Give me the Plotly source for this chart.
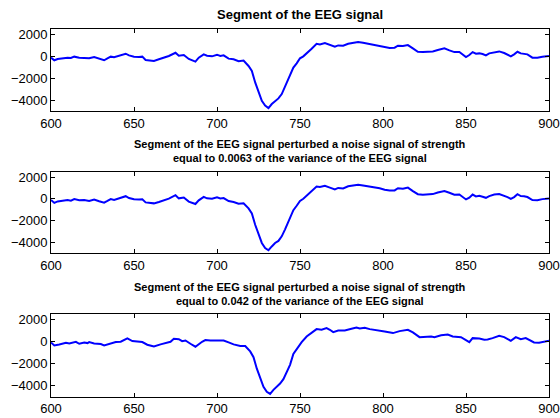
import plotly.graph_objects as go

# ---- data ----
x_clean = [600, 602, 604, 607, 610, 612, 614, 617, 620, 623, 626, 629, 632, 634, 636, 638, 641, 645, 647, 650,
           653, 655, 657, 660, 662, 665, 668, 671, 675, 677, 680, 683, 687, 689, 692, 694, 697, 700, 702, 704,
           707, 710, 713, 716, 719, 721, 723, 725, 727, 729, 731, 733, 735, 737, 739, 741, 743, 746, 748, 750,
           752, 755, 757, 760, 762, 765, 768, 771, 773, 776, 779, 782, 785, 788, 791, 794, 798, 801, 804, 807,
           809, 812, 815, 818, 821, 824, 827, 830, 833, 837, 840, 843, 846, 848, 850, 852, 854, 856, 858, 860,
           862, 864, 867, 870, 873, 875, 877, 879, 881, 883, 885, 887, 890, 893, 896, 899, 900]
y_clean = [-120, -360, -240, -150, -120, -150, -30, -120, -120, -180, -60, -210, -360, -180, -30, -90, 30, 240, 90, -30,
           -60, -30, -330, -400, -420, -270, -120, 30, 330, 60, 120, -240, -480, -120, 180, 60, 0, 150, 30, 90,
           -210, -270, -450, -390, -880, -1330, -2390, -3150, -4060, -4500, -4730, -4360, -4060, -3850, -3450, -2790, -2090, -1030, -640, -180,
           0, 480, 700, 1150, 1090, 1210, 1030, 880, 1000, 970, 1150, 1240, 1300, 1240, 1150, 1060, 970, 850, 760, 790,
           970, 940, 1030, 730, 420, 390, 420, 450, 580, 730, 550, 390, 390, 180, -60, 120, 390, 240, 270, 210,
           90, 270, 390, 450, 300, 180, 0, 180, 420, 270, 240, 180, -120, -120, -30, 30, 30]

x_noise1 = x_clean
y_noise1 = [-100, -370, -230, -160, -110, -160, -20, -130, -110, -190, -50, -220, -350, -190, -20, -100, 40, 250, 80, -40,
            -50, -40, -320, -410, -410, -280, -110, 20, 340, 50, 130, -250, -470, -130, 190, 50, 10, 140, 40, 80,
            -200, -280, -440, -400, -870, -1340, -2380, -3160, -4050, -4510, -4720, -4370, -4050, -3860, -3440, -2800, -2080, -1040, -630, -190,
            10, 470, 710, 1140, 1100, 1200, 1040, 870, 1010, 960, 1160, 1230, 1310, 1230, 1160, 1050, 980, 840, 770, 780,
            980, 930, 1040, 720, 430, 380, 430, 440, 590, 720, 560, 380, 400, 170, -50, 110, 400, 230, 280, 200,
            100, 260, 400, 440, 310, 170, 10, 170, 430, 260, 250, 170, -110, -130, -20, 20, 40]

x_noise2 = [600, 602, 605, 609, 611, 615, 617, 620, 622, 623, 626, 630, 632, 636, 639, 642, 646, 649, 652, 655,
            658, 662, 666, 669, 672, 674, 677, 679, 681, 684, 687, 691, 693, 696, 700, 704, 707, 710, 714, 717,
            720, 722, 724, 726, 728, 730, 732, 734, 736, 738, 740, 742, 744, 746, 748, 751, 754, 757, 760, 763,
            766, 768, 770, 773, 777, 781, 784, 786, 789, 792, 797, 801, 806, 810, 815, 818, 822, 826, 829, 831,
            835, 839, 842, 847, 850, 852, 854, 858, 861, 863, 866, 870, 873, 877, 880, 883, 886, 889, 891, 894,
            897, 900]
y_noise2 = [-60, -330, -240, -90, -150, 0, -180, -60, -120, -30, -150, -210, -330, -120, -30, 0, 300, 60, 30, -30,
            -270, -420, -240, -90, 0, 270, 240, 60, 120, -180, -450, 0, 150, 120, 120, 120, -60, -240, -390, -390,
            -880, -1400, -2450, -3200, -4100, -4550, -4750, -4380, -4080, -3800, -3400, -2800, -2100, -1100, -640, -30, 480, 790, 1150, 1090,
            1240, 1090, 880, 1030, 1030, 1180, 1300, 1210, 1270, 1150, 1060, 940, 790, 970, 1090, 850, 420, 450, 480, 420,
            600, 660, 480, 420, 120, -30, 330, 300, 180, 210, 330, 540, 420, 90, 420, 240, 330, 120, -60, -90,
            0, 90]

x_ticks = [600, 650, 700, 750, 800, 850, 900]
y_ticks = [-4000, -2000, 0, 2000]

titles = [
    ["Segment of the EEG signal"],
    ["Segment of the EEG signal perturbed a noise signal of strength",
     "equal to 0.0063 of the variance of the EEG signal"],
    ["Segment of the EEG signal perturbed a noise signal of strength",
     "equal to 0.042 of the variance of the EEG signal"],
]

# ---- layout geometry ----
W, H = 560, 418
domains = [(29, 111), (171.7, 253.3), (314.3, 396.7)]
title_y = [[14.7], [144.3, 158.3], [286.7, 300.7]]
title_size = [13, 11, 11]
FONT = "Liberation Sans, Arial, Helvetica, sans-serif"

fig = go.Figure()
series = [(x_clean, y_clean), (x_noise1, y_noise1), (x_noise2, y_noise2)]
for i, (xs, ys) in enumerate(series):
    sfx = "" if i == 0 else str(i + 1)
    fig.add_trace(go.Scatter(x=xs, y=ys, mode="lines",
                             line=dict(color="#0000ff", width=2),
                             xaxis="x" + sfx, yaxis="y" + sfx, showlegend=False,
                             hoverinfo="skip"))

layout = dict(width=W, height=H, margin=dict(l=51, r=11, t=0, b=0),
              paper_bgcolor="white", plot_bgcolor="white",
              font=dict(family=FONT, size=13, color="black"),
              showlegend=False, template="none")
ann = []
for i, (top, bot) in enumerate(domains):
    sfx = "" if i == 0 else str(i + 1)
    layout["xaxis" + sfx] = dict(domain=[0, 1], range=[600, 900], anchor="y" + sfx,
                                 tickvals=x_ticks, ticks="inside", ticklen=4, tickcolor="black",
                                 showline=True, linecolor="black", linewidth=1, mirror="ticks",
                                 showgrid=False, zeroline=False, automargin=False,
                                 tickfont=dict(family=FONT, size=13, color="black"))
    layout["yaxis" + sfx] = dict(domain=[1 - bot / H, 1 - top / H], range=[-5000, 2500], anchor="x" + sfx,
                                 tickvals=y_ticks, ticks="inside", ticklen=4, tickcolor="black",
                                 showline=True, linecolor="black", linewidth=1, mirror="ticks",
                                 showgrid=False, zeroline=False, automargin=False,
                                 tickfont=dict(family=FONT, size=13, color="black"))
    for line, py in zip(titles[i], title_y[i]):
        ann.append(dict(text="<b>" + line + "</b>", x=0.5, xref="paper", y=1 - py / H, yref="paper",
                        xanchor="center", yanchor="middle", showarrow=False,
                        font=dict(family=FONT, size=title_size[i], color="black")))
layout["annotations"] = ann
fig.update_layout(**layout)
fig.write_html("out.html", config={"displayModeBar": False},
               post_script="document.body.style.margin='0';document.body.style.overflow='hidden';")
